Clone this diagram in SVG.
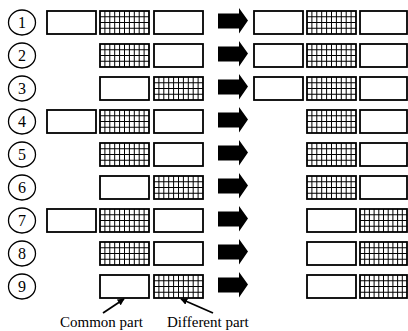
<svg xmlns="http://www.w3.org/2000/svg" xmlns:xlink="http://www.w3.org/1999/xlink" width="408" height="331" viewBox="0 0 408 331">
<style>
.bx{fill:#fff;stroke:#000;stroke-width:1.8}
.gl{fill:none;stroke:#000;stroke-width:1}
.num{fill:#fff;stroke:#000;stroke-width:1.3}
.nt{font-family:"Liberation Serif","Times New Roman",serif;font-size:16px;text-anchor:middle;fill:#000}
.lb{font-family:"Liberation Serif","Times New Roman",serif;font-size:15px;fill:#000}
.ld{stroke:#000;stroke-width:1.8;fill:none}
</style>
<defs>
<g id="wbox"><rect class="bx" x="0" y="0" width="49" height="23"/></g>
<g id="gbox"><rect class="bx" x="0" y="0" width="49" height="23"/>
<path class="gl" d="M4.9,0V23M9.8,0V23M14.7,0V23M19.6,0V23M24.5,0V23M29.4,0V23M34.3,0V23M39.2,0V23M44.1,0V23M0,5.75H49M0,11.5H49M0,17.25H49"/></g>
<g id="wboxF"><rect class="bx" x="0" y="0" width="47" height="23"/></g>
<g id="gboxF"><rect class="bx" x="0" y="0" width="47" height="23"/>
<path class="gl" d="M4.7,0V23M9.4,0V23M14.1,0V23M18.8,0V23M23.5,0V23M28.2,0V23M32.9,0V23M37.6,0V23M42.3,0V23M0,5.75H47M0,11.5H47M0,17.25H47"/></g>
<path id="bigarrow" d="M0,-7.5H21V-13L30,-0.5L21,12.5V7.5H0Z" fill="#000"/>
<marker id="ah" viewBox="0 0 10 10" refX="9" refY="5" markerWidth="7" markerHeight="7" orient="auto" markerUnits="userSpaceOnUse"><path d="M0,0L10,5L0,10Z" fill="#000"/></marker>
</defs>

<g id="row1">
<g id="n1"><ellipse class="num" cx="22" cy="22.5" rx="13.5" ry="12.5"/><text class="nt" x="22" y="28">1</text></g>
<g id="r1a"><use xlink:href="#wbox" x="47" y="11"/></g>
<g id="r1b"><use xlink:href="#gbox" x="100" y="11"/></g>
<g id="r1c"><use xlink:href="#wbox" x="154" y="11"/></g>
<g id="r1d"><use xlink:href="#wbox" x="254" y="11"/></g>
<g id="r1e"><use xlink:href="#gbox" x="307" y="11"/></g>
<g id="r1f"><use xlink:href="#wboxF" x="360" y="11"/></g>
</g>
<g id="row2">
<g id="n2"><ellipse class="num" cx="22" cy="55.5" rx="13.5" ry="12.5"/><text class="nt" x="22" y="61">2</text></g>
<g id="r2b"><use xlink:href="#gbox" x="100" y="44"/></g>
<g id="r2c"><use xlink:href="#wbox" x="154" y="44"/></g>
<g id="r2d"><use xlink:href="#wbox" x="254" y="44"/></g>
<g id="r2e"><use xlink:href="#gbox" x="307" y="44"/></g>
<g id="r2f"><use xlink:href="#wboxF" x="360" y="44"/></g>
</g>
<g id="row3">
<g id="n3"><ellipse class="num" cx="22" cy="88.5" rx="13.5" ry="12.5"/><text class="nt" x="22" y="94">3</text></g>
<g id="r3b"><use xlink:href="#wbox" x="100" y="77"/></g>
<g id="r3c"><use xlink:href="#gbox" x="154" y="77"/></g>
<g id="r3d"><use xlink:href="#wbox" x="254" y="77"/></g>
<g id="r3e"><use xlink:href="#gbox" x="307" y="77"/></g>
<g id="r3f"><use xlink:href="#wboxF" x="360" y="77"/></g>
</g>
<g id="row4">
<g id="n4"><ellipse class="num" cx="22" cy="121.5" rx="13.5" ry="12.5"/><text class="nt" x="22" y="127">4</text></g>
<g id="r4a"><use xlink:href="#wbox" x="47" y="110"/></g>
<g id="r4b"><use xlink:href="#gbox" x="100" y="110"/></g>
<g id="r4c"><use xlink:href="#wbox" x="154" y="110"/></g>
<g id="r4e"><use xlink:href="#gbox" x="307" y="110"/></g>
<g id="r4f"><use xlink:href="#wboxF" x="360" y="110"/></g>
</g>
<g id="row5">
<g id="n5"><ellipse class="num" cx="22" cy="154.5" rx="13.5" ry="12.5"/><text class="nt" x="22" y="160">5</text></g>
<g id="r5b"><use xlink:href="#gbox" x="100" y="143"/></g>
<g id="r5c"><use xlink:href="#wbox" x="154" y="143"/></g>
<g id="r5e"><use xlink:href="#gbox" x="307" y="143"/></g>
<g id="r5f"><use xlink:href="#wboxF" x="360" y="143"/></g>
</g>
<g id="row6">
<g id="n6"><ellipse class="num" cx="22" cy="187.5" rx="13.5" ry="12.5"/><text class="nt" x="22" y="193">6</text></g>
<g id="r6b"><use xlink:href="#wbox" x="100" y="176"/></g>
<g id="r6c"><use xlink:href="#gbox" x="154" y="176"/></g>
<g id="r6e"><use xlink:href="#gbox" x="307" y="176"/></g>
<g id="r6f"><use xlink:href="#wboxF" x="360" y="176"/></g>
</g>
<g id="row7">
<g id="n7"><ellipse class="num" cx="22" cy="220.5" rx="13.5" ry="12.5"/><text class="nt" x="22" y="226">7</text></g>
<g id="r7a"><use xlink:href="#wbox" x="47" y="209"/></g>
<g id="r7b"><use xlink:href="#gbox" x="100" y="209"/></g>
<g id="r7c"><use xlink:href="#wbox" x="154" y="209"/></g>
<g id="r7e"><use xlink:href="#wbox" x="307" y="209"/></g>
<g id="r7f"><use xlink:href="#gboxF" x="360" y="209"/></g>
</g>
<g id="row8">
<g id="n8"><ellipse class="num" cx="22" cy="253.5" rx="13.5" ry="12.5"/><text class="nt" x="22" y="259">8</text></g>
<g id="r8b"><use xlink:href="#gbox" x="100" y="242"/></g>
<g id="r8c"><use xlink:href="#wbox" x="154" y="242"/></g>
<g id="r8e"><use xlink:href="#wbox" x="307" y="242"/></g>
<g id="r8f"><use xlink:href="#gboxF" x="360" y="242"/></g>
</g>
<g id="row9">
<g id="n9"><ellipse class="num" cx="22" cy="286.5" rx="13.5" ry="12.5"/><text class="nt" x="22" y="292">9</text></g>
<g id="r9b"><use xlink:href="#wbox" x="100" y="275"/></g>
<g id="r9c"><use xlink:href="#gbox" x="154" y="275"/></g>
<g id="r9e"><use xlink:href="#wbox" x="307" y="275"/></g>
<g id="r9f"><use xlink:href="#gboxF" x="360" y="275"/></g>
</g>

<g id="connectors">
<use xlink:href="#bigarrow" x="218" y="21"/>
<use xlink:href="#bigarrow" x="218" y="54"/>
<use xlink:href="#bigarrow" x="218" y="87"/>
<use xlink:href="#bigarrow" x="218" y="120"/>
<use xlink:href="#bigarrow" x="218" y="153"/>
<use xlink:href="#bigarrow" x="218" y="186"/>
<use xlink:href="#bigarrow" x="218" y="219"/>
<use xlink:href="#bigarrow" x="218" y="252"/>
<use xlink:href="#bigarrow" x="218" y="285"/>
<line class="ld" x1="103" y1="313" x2="124" y2="299" marker-end="url(#ah)"/>
<line class="ld" x1="213" y1="313" x2="181" y2="299" marker-end="url(#ah)"/>
</g>

<g id="labels">
<text class="lb" x="60" y="327">Common part</text>
<text class="lb" x="167" y="327">Different part</text>
</g>
</svg>
